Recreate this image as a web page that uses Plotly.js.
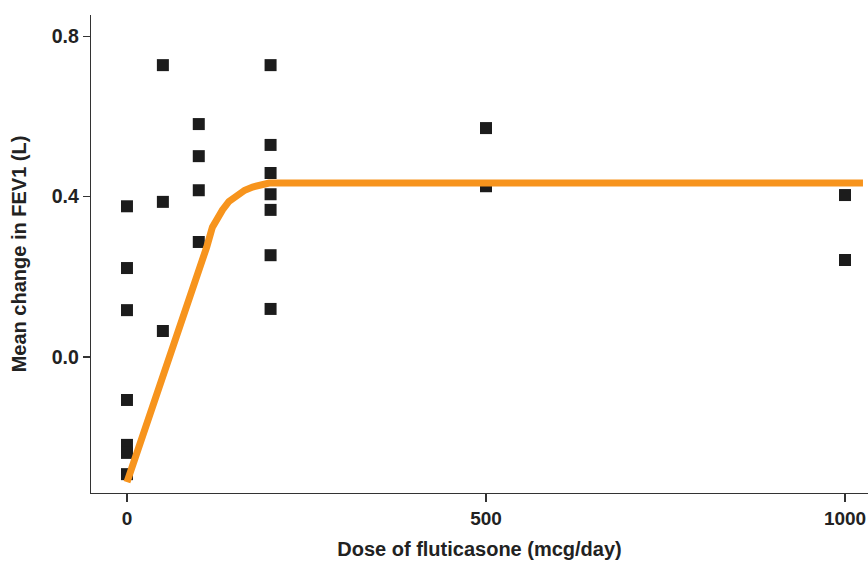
<!DOCTYPE html>
<html>
<head>
<meta charset="utf-8">
<script src="https://cdn.plot.ly/plotly-3.0.1.min.js"></script>
<style>
html,body{margin:0;padding:0;background:#fff;}
#chart{width:868px;height:565px;}
</style>
</head>
<body>
<div id="chart"></div>
<script>
// Observed study means: dose (mcg/day) and mean change in FEV1 (L)
const doseObs = [
  0, 0, 0, 0, 0, 0, 0,
  50, 50, 50,
  100, 100, 100, 100,
  200, 200, 200, 200, 200, 200, 200,
  500, 500,
  1000, 1000
];
const fevObs = [
  0.376, 0.222, 0.117, -0.107, -0.219, -0.239, -0.292,
  0.728, 0.387, 0.065,
  0.581, 0.501, 0.416, 0.287,
  0.728, 0.529, 0.459, 0.406, 0.367, 0.254, 0.120,
  0.571, 0.426,
  0.404, 0.242
];
// Fitted dose-response curve
const doseFit = [0, 98, 104, 111, 119, 126, 133, 142, 153, 164, 175, 187, 198, 1025];
const fevFit  = [-0.312, 0.197, 0.236, 0.274, 0.324, 0.348, 0.367, 0.388, 0.404, 0.416, 0.424, 0.431, 0.434, 0.434];

const xTicks = [0, 500, 1000];
const yTicks = [0.0, 0.4, 0.8];

const FONT = 'Liberation Sans, Arial, Helvetica, sans-serif';
const INK = '#222222';

const traces = [
  {
    x: doseObs, y: fevObs, type: 'scatter', mode: 'markers',
    marker: {symbol: 'square', size: 12, color: '#1c1c1c',
             line: {width: 0}},
    hoverinfo: 'x+y', showlegend: false
  },
  {
    x: doseFit, y: fevFit, type: 'scatter', mode: 'lines',
    line: {color: '#F7941D', width: 7, shape: 'linear'},
    showlegend: false
  }
];

const layout = {
  width: 868, height: 565,
  margin: {l: 91, r: 0, t: 15, b: 72, pad: 0},
  paper_bgcolor: '#ffffff', plot_bgcolor: '#ffffff',
  showlegend: false,
  xaxis: {
    range: [-50.1, 1032],
    tickvals: xTicks, ticktext: xTicks.map(String),
    ticklabeloverflow: 'allow',
    showgrid: false, zeroline: false,
    showline: true, linecolor: '#333333', linewidth: 1.3,
    ticks: 'outside', ticklen: 8, tickwidth: 1.3, tickcolor: '#333333',
    tickfont: {family: FONT, size: 19, color: INK, weight: 'bold'},
    title: {text: 'Dose of fluticasone (mcg/day)', standoff: 14,
            font: {family: FONT, size: 20, color: INK, weight: 'bold'}}
  },
  yaxis: {
    range: [-0.339, 0.853],
    tickvals: yTicks, ticktext: yTicks.map(v => v.toFixed(1)),
    showgrid: false, zeroline: false,
    showline: true, linecolor: '#333333', linewidth: 1.3,
    ticks: 'outside', ticklen: 7, tickwidth: 1.3, tickcolor: '#333333',
    tickfont: {family: FONT, size: 19.5, color: INK, weight: 'bold'},
    title: {text: 'Mean change in FEV1 (L)', standoff: 19,
            font: {family: FONT, size: 20, color: INK, weight: 'bold'}}
  }
};

Plotly.newPlot('chart', traces, layout, {displayModeBar: false, staticPlot: true});
</script>
</body>
</html>
